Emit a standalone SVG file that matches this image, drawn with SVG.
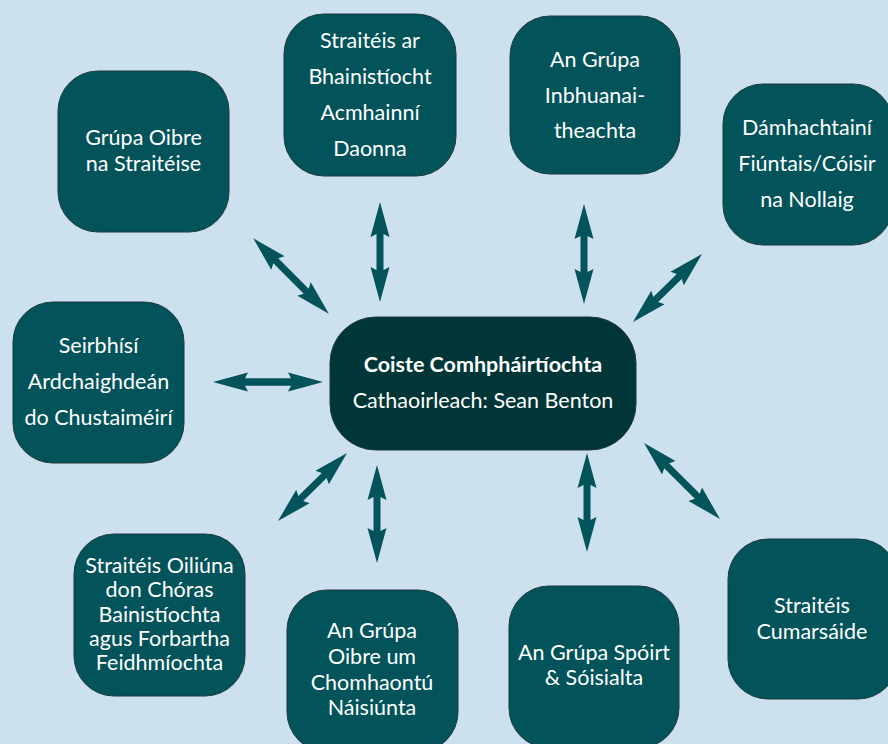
<svg xmlns="http://www.w3.org/2000/svg" width="888" height="744" viewBox="0 0 888 744">
<style>
.bg{fill:#cde0ee}
.node{fill:#02535a;stroke:#1d3b3c;stroke-width:1}
.hub{fill:#013639;stroke:#1d3b3c;stroke-width:1}
.t{font-family:Lato,"Noto Sans","Liberation Sans",sans-serif;font-size:21.5px;fill:#ffffff;text-anchor:middle}
.b{font-weight:bold}
.arr{fill:#02535a}
</style>
<rect class="bg" x="0" y="0" width="888" height="744"/>
<g id="connectors">
<path class="arr" transform="translate(291,276) rotate(45)" d="M -53.5 0 L -18.5 -9.5 L -21.5 -3.5 L 21.5 -3.5 L 18.5 -9.5 L 53.5 0 L 18.5 9.5 L 21.5 3.5 L -21.5 3.5 L -18.5 9.5 Z"/>
<path class="arr" transform="translate(380,252) rotate(90)" d="M -50 0 L -15 -9.5 L -18 -3.5 L 18 -3.5 L 15 -9.5 L 50 0 L 15 9.5 L 18 3.5 L -18 3.5 L -15 9.5 Z"/>
<path class="arr" transform="translate(584,254) rotate(90)" d="M -50 0 L -15 -9.5 L -18 -3.5 L 18 -3.5 L 15 -9.5 L 50 0 L 15 9.5 L 18 3.5 L -18 3.5 L -15 9.5 Z"/>
<path class="arr" transform="translate(667.5,288) rotate(-44.6)" d="M -48.5 0 L -13.5 -9.5 L -16.5 -3.5 L 16.5 -3.5 L 13.5 -9.5 L 48.5 0 L 13.5 9.5 L 16.5 3.5 L -16.5 3.5 L -13.5 9.5 Z"/>
<path class="arr" transform="translate(268,382)" d="M -55 0 L -20 -9.5 L -23 -3.8 L 23 -3.8 L 20 -9.5 L 55 0 L 20 9.5 L 23 3.8 L -23 3.8 L -20 9.5 Z"/>
<path class="arr" transform="translate(312.5,487) rotate(-44.6)" d="M -48.5 0 L -13.5 -9.5 L -16.5 -3.5 L 16.5 -3.5 L 13.5 -9.5 L 48.5 0 L 13.5 9.5 L 16.5 3.5 L -16.5 3.5 L -13.5 9.5 Z"/>
<path class="arr" transform="translate(377,514) rotate(90)" d="M -49 0 L -14 -9.5 L -17 -3.5 L 17 -3.5 L 14 -9.5 L 49 0 L 14 9.5 L 17 3.5 L -17 3.5 L -14 9.5 Z"/>
<path class="arr" transform="translate(587,502.5) rotate(90)" d="M -49.5 0 L -14.5 -9.5 L -17.5 -3.5 L 17.5 -3.5 L 14.5 -9.5 L 49.5 0 L 14.5 9.5 L 17.5 3.5 L -17.5 3.5 L -14.5 9.5 Z"/>
<path class="arr" transform="translate(682,481) rotate(45)" d="M -53.7 0 L -18.7 -9.5 L -21.7 -3.5 L 21.7 -3.5 L 18.7 -9.5 L 53.7 0 L 18.7 9.5 L 21.7 3.5 L -21.7 3.5 L -18.7 9.5 Z"/>
</g>
<g id="hub">
<rect class="hub" x="330" y="317" width="306" height="133" rx="46"/>
<text class="t b" x="483" y="372">Coiste Comhpháirtíochta</text>
<text class="t" x="483" y="408">Cathaoirleach: Sean Benton</text>
</g>
<g id="n-grupa-oibre">
<rect class="node" x="58" y="71" width="171" height="161" rx="40"/>
<text class="t" x="143.5" y="145">Grúpa Oibre</text>
<text class="t" x="143.5" y="171">na Straitéise</text>
</g>
<g id="n-acmhainni">
<rect class="node" x="284" y="14" width="172" height="162" rx="40"/>
<text class="t" x="370" y="48">Straitéis ar</text>
<text class="t" x="370" y="84">Bhainistíocht</text>
<text class="t" x="370" y="120">Acmhainní</text>
<text class="t" x="370" y="156">Daonna</text>
</g>
<g id="n-inbhuanai">
<rect class="node" x="510" y="16" width="170" height="158" rx="40"/>
<text class="t" x="595" y="67">An Grúpa</text>
<text class="t" x="595" y="103">Inbhuanai-</text>
<text class="t" x="595" y="138">theachta</text>
</g>
<g id="n-damhachtaini">
<rect class="node" x="723" y="84" width="170" height="161" rx="40"/>
<text class="t" x="807" y="135">Dámhachtainí</text>
<text class="t" x="807" y="171">Fiúntais/Cóisir</text>
<text class="t" x="807" y="207">na Nollaig</text>
</g>
<g id="n-seirbhisi">
<rect class="node" x="13" y="302" width="171" height="161" rx="40"/>
<text class="t" x="98.5" y="353">Seirbhísí</text>
<text class="t" x="98.5" y="389">Ardchaighdeán</text>
<text class="t" x="98.5" y="425">do Chustaiméirí</text>
</g>
<g id="n-oiliuna">
<rect class="node" x="74" y="534" width="171" height="162" rx="40"/>
<text class="t" x="159.5" y="573">Straitéis Oiliúna</text>
<text class="t" x="159.5" y="597">don Chóras</text>
<text class="t" x="159.5" y="622">Bainistíochta</text>
<text class="t" x="159.5" y="646">agus Forbartha</text>
<text class="t" x="159.5" y="670">Feidhmíochta</text>
</g>
<g id="n-comhaontu">
<rect class="node" x="287" y="590" width="171" height="162" rx="40"/>
<text class="t" x="372" y="638">An Grúpa</text>
<text class="t" x="372" y="664">Oibre um</text>
<text class="t" x="372" y="690">Chomhaontú</text>
<text class="t" x="372" y="715">Náisiúnta</text>
</g>
<g id="n-spoirt">
<rect class="node" x="509" y="586" width="170" height="162" rx="40"/>
<text class="t" x="594" y="660">An Grúpa Spóirt</text>
<text class="t" x="594" y="685">&amp; Sóisialta</text>
</g>
<g id="n-cumarsaide">
<rect class="node" x="728" y="539" width="170" height="160" rx="40"/>
<text class="t" x="812" y="613">Straitéis</text>
<text class="t" x="812" y="639">Cumarsáide</text>
</g>
</svg>
